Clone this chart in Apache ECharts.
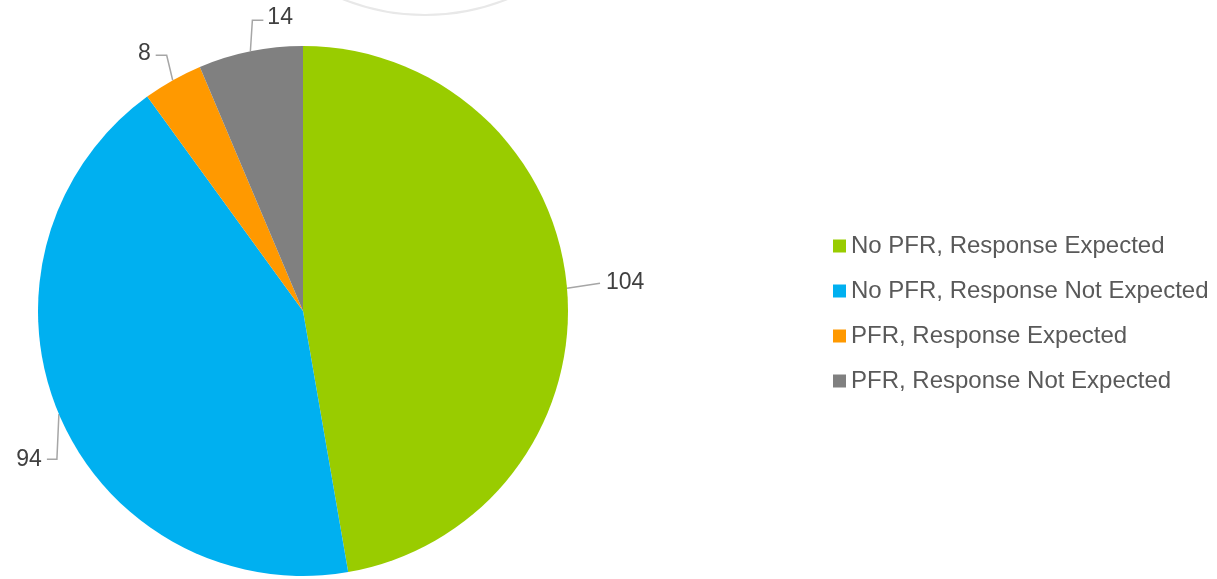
<!DOCTYPE html>
<html>
<head>
<meta charset="utf-8">
<script src="https://cdn.jsdelivr.net/npm/echarts@6/dist/echarts.min.js"></script>
<style>html,body{margin:0;padding:0;background:#fff;}#c{width:1217px;height:579px;}</style>
</head>
<body>
<div id="c"></div>
<script>
const categories = ['No PFR, Response Expected', 'No PFR, Response Not Expected', 'PFR, Response Expected', 'PFR, Response Not Expected'];
const values = [104, 94, 8, 14];
const colors = ['#99cc00', '#00b0f0', '#ff9900', '#808080'];

// leader-line elbow offsets relative to the slice edge point (style only)
const leader = [
  {pts: [[33, -5]], lx: 39, ly: -6, align: 'left'},
  {pts: [[-2, 45], [-12, 45]], lx: -17, ly: 45, align: 'right'},
  {pts: [[-6, -25], [-17, -25]], lx: -22, ly: -27, align: 'right'},
  {pts: [[2, -31], [13, -31]], lx: 17, ly: -34, align: 'left'}
];

const chart = echarts.init(document.getElementById('c'));
chart.setOption({
  animation: false,
  backgroundColor: '#fff',
  graphic: [{
    type: 'circle', shape: {cx: 425, cy: -206, r: 221}, silent: true,
    style: {fill: 'none', stroke: '#e8e8e8', lineWidth: 2}
  }],
  legend: {
    orient: 'vertical', left: 833, top: 234, padding: 0,
    itemWidth: 13, itemHeight: 13, itemGap: 21, icon: 'rect',
    textStyle: {fontFamily: 'Liberation Sans, Arial, sans-serif', fontSize: 24, color: '#595959'},
    data: categories
  },
  series: [{
    type: 'pie',
    center: [303, 311],
    radius: 265,
    startAngle: 90,
    clockwise: true,
    avoidLabelOverlap: false,
    data: categories.map((n, i) => ({name: n, value: values[i], itemStyle: {color: colors[i]}})),
    label: {
      show: true, formatter: '{c}',
      fontFamily: 'Liberation Sans, Arial, sans-serif', fontSize: 23, color: '#404040'
    },
    labelLine: {show: true, length: 20, length2: 10, smooth: false, lineStyle: {color: '#a6a6a6', width: 1.5}},
    labelLayout: function (p) {
      const L = leader[p.dataIndex];
      const p0 = p.labelLinePoints ? p.labelLinePoints[0] : null;
      if (!p0) return {};
      const pts = [[p0[0], p0[1]]].concat(L.pts.map(d => [p0[0] + d[0], p0[1] + d[1]]));
      return {
        x: p0[0] + L.lx, y: p0[1] + L.ly,
        align: L.align, verticalAlign: 'middle',
        labelLinePoints: pts
      };
    }
  }]
});
</script>
</body>
</html>
